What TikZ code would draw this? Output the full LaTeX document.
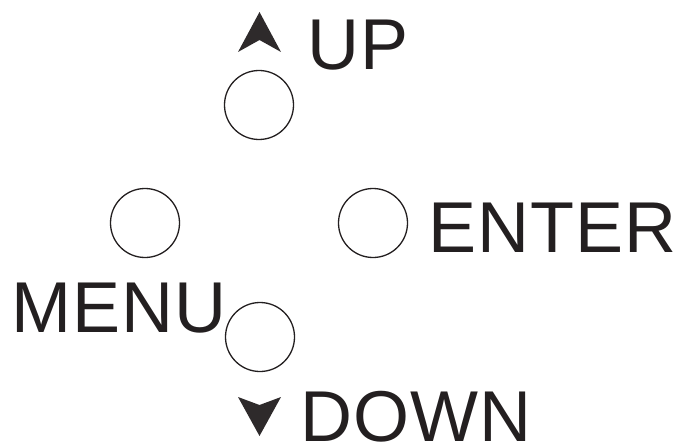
\documentclass[tikz,border=0pt]{standalone}
\usepackage{fontspec}
\setmainfont{Liberation Sans}
\newfontfamily\lblfont[LetterSpace=1.5]{Liberation Sans}
\definecolor{ink}{HTML}{231F20}
\begin{document}
\begin{tikzpicture}[x=1pt,y=1pt,
  btn/.style={circle,draw=ink,line width=1.3pt,minimum size=69pt,inner sep=0pt},
  lbl/.style={anchor=base west,inner sep=0pt,text=ink,font=\lblfont\fontsize{72}{72}\selectfont},
  tip/.style={fill=ink!95!white,draw=none}]
\useasboundingbox (0,0) rectangle (684,445);
\node[btn] (up) at (259,340) {};
\node[btn] (menu) at (145,222) {};
\node[btn] (enter) at (373,222) {};
\node[btn] (down) at (260,108) {};
\node[lbl] (uplbl) at (307,375) {UP};
\node[lbl] (menulbl) at (11,113) {MENU};
\node[lbl] (enterlbl) at (428,193) {ENTER};
\node[lbl] (downlbl) at (300,4) {DOWN};
\fill[tip] (259.5,433) -- (238,393) -- (259.5,405) -- (281,393) -- cycle;
\fill[tip] (259.5,9) -- (238,48) -- (259.5,40) -- (281,48) -- cycle;
\end{tikzpicture}
\end{document}
